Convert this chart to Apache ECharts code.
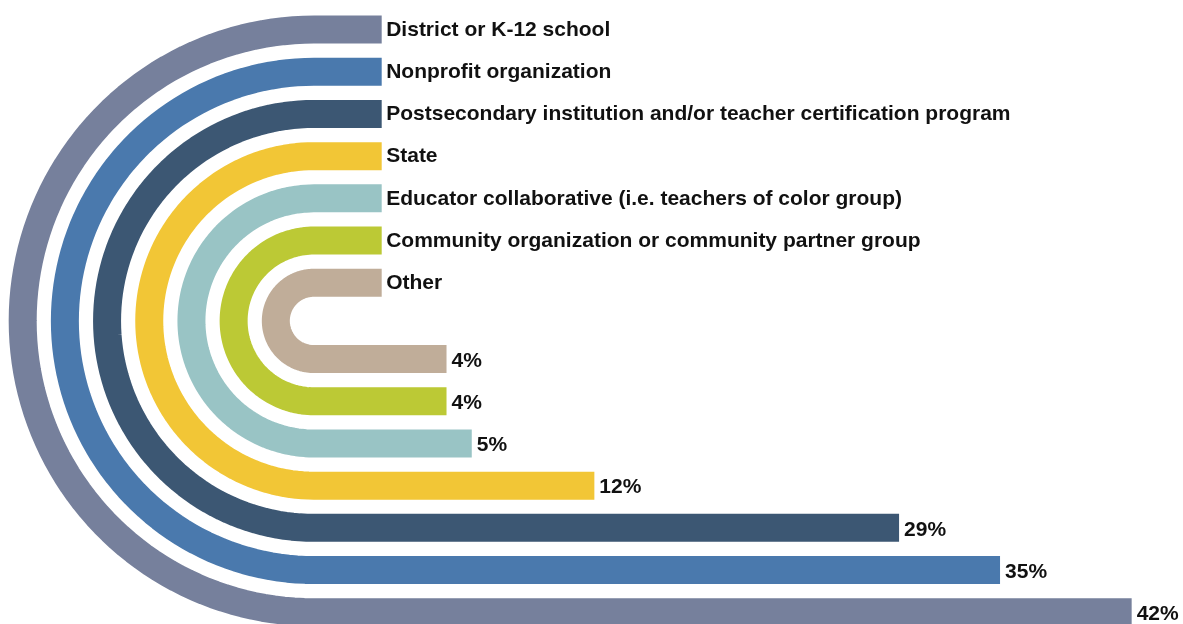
<!DOCTYPE html>
<html>
<head>
<meta charset="utf-8">
<script src="https://cdn.jsdelivr.net/npm/echarts@6/dist/echarts.min.js"></script>
<style>
html,body{margin:0;padding:0;background:#ffffff;}
#chart{width:1183px;height:624px;}
</style>
</head>
<body>
<div id="chart"></div>
<script>
// ---- data ----
const categories = [
  'District or K-12 school',
  'Nonprofit organization',
  'Postsecondary institution and/or teacher certification program',
  'State',
  'Educator collaborative (i.e. teachers of color group)',
  'Community organization or community partner group',
  'Other'
];
const values = [42, 34.7, 29.1, 12.2, 5.4, 4, 4];
const valueLabels = ['42%', '35%', '29%', '12%', '5%', '4%', '4%'];

// ---- styles ----
const palette = ['#76809c', '#4a79ad', '#3c5773', '#f2c636', '#99c4c5', '#bcc935', '#c0ad99'];
const FONT = "'Liberation Sans', Arial, Helvetica, sans-serif";
const BAND = 28;          // band thickness (px)
const ARC_X = -60.4;      // arc centre, px left of the value-axis zero
const TOP_X = 7.3;        // end of the top (label) straight, px right of zero
const CENTER_GAP = 0.905; // arc centre above the innermost row, in row steps

const chart = echarts.init(document.getElementById('chart'), null, {renderer: 'canvas'});

chart.setOption({
  animation: false,
  backgroundColor: '#ffffff',
  grid: {left: 374.4, top: 338, width: 811.35, height: 295.33, containLabel: false, outerBoundsMode: 'none'},
  xAxis: {type: 'value', min: 0, max: 45, show: false},
  yAxis: {type: 'category', data: categories, show: false},
  series: [{
    type: 'custom',
    data: values.map((v, i) => [v, i]),
    encode: {x: 0, y: 1},
    renderItem: function (params, api) {
      const i = api.value(1);
      const v = api.value(0);
      const end = api.coord([v, i]);
      const zero = api.coord([0, i]);
      const step = api.size([0, 1])[1];
      const inner = api.coord([0, categories.length - 1]);
      const cy = inner[1] - CENTER_GAP * step;
      const r = end[1] - cy;
      const cx = zero[0] + ARC_X;
      const topY = cy - r;
      const topEnd = zero[0] + TOP_X;
      const pts = [[topEnd, topY]];
      for (let a = 0; a <= 180; a += 2) {
        const t = (-90 - a) * Math.PI / 180;
        pts.push([cx + r * Math.cos(t), cy + r * Math.sin(t)]);
      }
      pts.push([end[0], end[1]]);
      return {
        type: 'group',
        children: [
          {
            type: 'polyline',
            shape: {points: pts},
            style: {stroke: palette[i], lineWidth: BAND, fill: null, lineCap: 'butt', lineJoin: 'round'}
          },
          {
            type: 'text',
            style: {
              text: categories[i], x: topEnd + 4.5, y: topY + 0.5,
              align: 'left', verticalAlign: 'middle',
              fontFamily: FONT, fontWeight: 'bold', fontSize: 21, fill: '#111111'
            }
          },
          {
            type: 'text',
            style: {
              text: valueLabels[i], x: end[0] + 5, y: end[1] + 2,
              align: 'left', verticalAlign: 'middle',
              fontFamily: FONT, fontWeight: 'bold', fontSize: 21, fill: '#111111'
            }
          }
        ]
      };
    }
  }]
});
</script>
</body>
</html>
